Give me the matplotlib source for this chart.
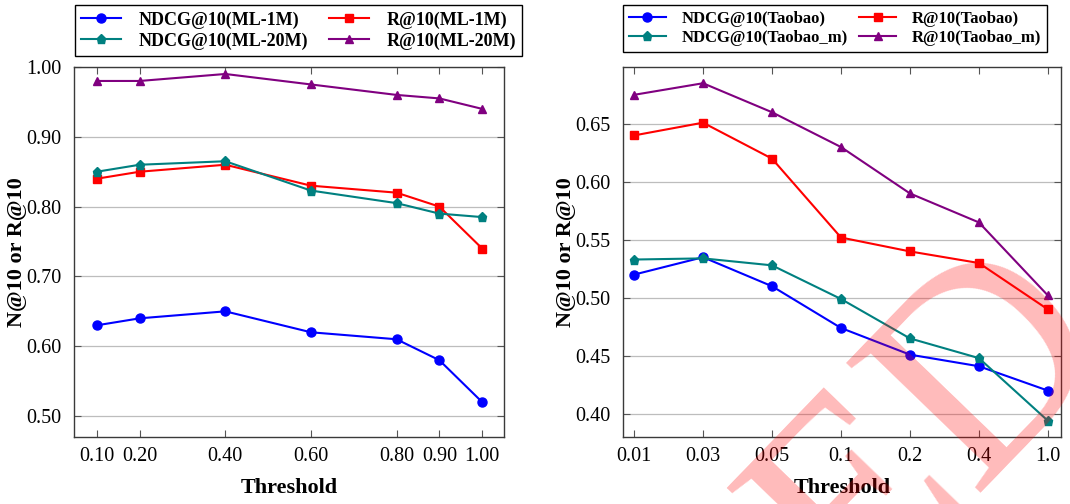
import matplotlib
matplotlib.use("Agg")
import matplotlib.pyplot as plt
import numpy as np

plt.rcParams['font.family'] = ['Liberation Serif', 'DejaVu Serif']

# ---------------- data ----------------
thr_left = [0.10, 0.20, 0.40, 0.60, 0.80, 0.90, 1.00]
thr_left_labels = ["0.10", "0.20", "0.40", "0.60", "0.80", "0.90", "1.00"]
ndcg_ml1m = [0.63, 0.64, 0.65, 0.62, 0.61, 0.58, 0.52]
r_ml1m = [0.84, 0.85, 0.86, 0.83, 0.82, 0.80, 0.74]
ndcg_ml20m = [0.85, 0.86, 0.865, 0.823, 0.805, 0.79, 0.785]
r_ml20m = [0.98, 0.98, 0.99, 0.975, 0.96, 0.955, 0.94]

thr_right_labels = ["0.01", "0.03", "0.05", "0.1", "0.2", "0.4", "1.0"]
ndcg_tb = [0.52, 0.535, 0.51, 0.474, 0.451, 0.441, 0.42]
r_tb = [0.64, 0.651, 0.62, 0.552, 0.54, 0.53, 0.49]
ndcg_tbm = [0.533, 0.534, 0.528, 0.499, 0.465, 0.448, 0.394]
r_tbm = [0.675, 0.685, 0.66, 0.63, 0.59, 0.565, 0.502]

left_yticks = [0.50, 0.60, 0.70, 0.80, 0.90, 1.00]
right_yticks = [0.40, 0.45, 0.50, 0.55, 0.60, 0.65]

# ---------------- style ----------------
BLUE = (0, 0, 1)
RED = (1, 0, 0)
TEAL = (0, 0.5, 0.5)
PURPLE = (0.5, 0, 0.5)
W, H = 1070, 504

fig = plt.figure(figsize=(W / 100, H / 100), dpi=100)

def px_axes(l, t, r, b):
    return fig.add_axes([l / W, 1 - b / H, (r - l) / W, (b - t) / H])

def fig_pt(x, y):
    return (x / W, 1 - y / H)

ax1 = px_axes(74, 67, 504, 437)
ax2 = px_axes(623, 67, 1061, 437)

lw = 1.5

def style_axes(ax, label_x):
    for s in ax.spines.values():
        s.set_color('#3a3a3a')
        s.set_linewidth(1.0)
    ax.tick_params(direction='in', length=5, width=0.8, color='#555555',
                   top=True, right=True, labelsize=14.5, pad=9)
    ax.tick_params(axis='x', pad=7)
    ax.grid(axis='y', color='#bdbdbd', linewidth=0.9)
    ax.set_axisbelow(True)
    ax.set_xlabel('Threshold', fontsize=16, fontweight='bold', labelpad=9)
    ax.set_ylabel('N@10 or R@10', fontsize=16, fontweight='bold')
    ax.yaxis.set_label_coords(label_x, 0.5)

def plot_series(ax, x, a, b, c, d, labels):
    ax.plot(x, a, color=BLUE, marker='o', lw=lw, ms=6.5, label=labels[0])
    ax.plot(x, b, color=RED, marker='s', lw=lw, ms=6.0, label=labels[1])
    ax.plot(x, c, color=TEAL, marker='p', lw=lw, ms=6.8, label=labels[2])
    ax.plot(x, d, color=PURPLE, marker='^', lw=lw, ms=6.3, label=labels[3])

def make_legend(ax, anchor_px, size, colsp):
    h, l = ax.get_legend_handles_labels()
    order = [0, 2, 1, 3]
    leg = ax.legend([h[i] for i in order], [l[i] for i in order], ncol=2,
                    loc='upper left', bbox_to_anchor=fig_pt(*anchor_px),
                    bbox_transform=fig.transFigure,
                    prop={'size': size, 'weight': 'bold'},
                    frameon=True, fancybox=False, edgecolor='black', framealpha=1,
                    handlelength=2.2, borderpad=0.35, labelspacing=0.2,
                    columnspacing=colsp, handletextpad=0.95, borderaxespad=0)
    leg.get_frame().set_linewidth(1.0)
    return leg

# left
plot_series(ax1, thr_left, ndcg_ml1m, r_ml1m, ndcg_ml20m, r_ml20m,
            ['NDCG@10(ML-1M)', 'R@10(ML-1M)', 'NDCG@10(ML-20M)', 'R@10(ML-20M)'])
ax1.set_xlim(0.0465, 1.051)
ax1.set_ylim(0.47, 1.0)
ax1.set_xticks(thr_left)
ax1.set_xticklabels(thr_left_labels)
ax1.set_yticks(left_yticks)
ax1.set_yticklabels([f"{v:.2f}" for v in left_yticks])
style_axes(ax1, (27 - 74) / 430)
make_legend(ax1, (75, 5), 13, 1.2)

# right
xr = np.arange(len(thr_right_labels))
plot_series(ax2, xr, ndcg_tb, r_tb, ndcg_tbm, r_tbm,
            ['NDCG@10(Taobao)', 'R@10(Taobao)', 'NDCG@10(Taobao_m)', 'R@10(Taobao_m)'])
ax2.set_xlim(-0.16, 6.19)
ax2.set_ylim(0.38, 0.699)
ax2.set_xticks(xr)
ax2.set_xticklabels(thr_right_labels)
ax2.set_yticks(right_yticks)
ax2.set_yticklabels([f"{v:.2f}" for v in right_yticks])
style_axes(ax2, (576 - 623) / 438)
make_legend(ax2, (623, 5), 12, 0.7)

# watermark (semi-transparent rotated text)
fig.text(*fig_pt(1117, 344), 'ED', fontsize=205, rotation=46,
         rotation_mode='anchor', ha='right', va='baseline',
         color=(1, 0, 0), alpha=0.27, family='Liberation Serif', zorder=100)

fig.savefig('out.png', dpi=100)
